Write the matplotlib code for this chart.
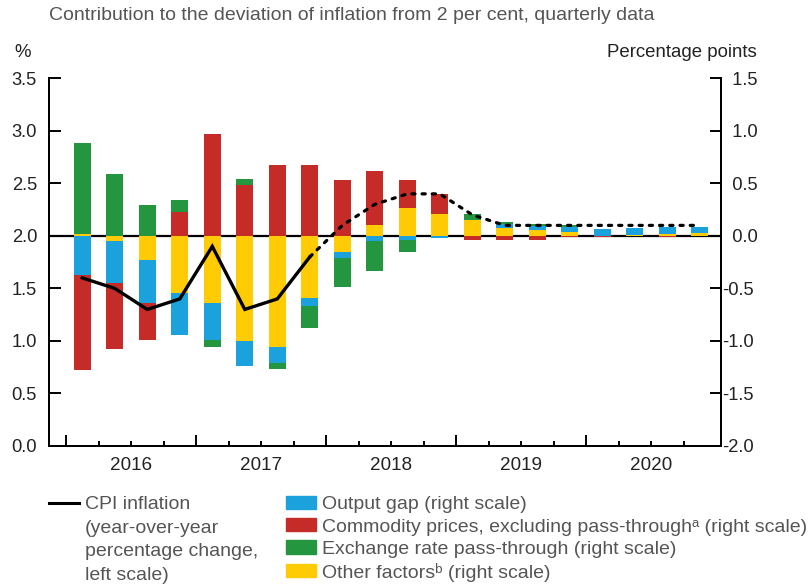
import numpy as np
import matplotlib
matplotlib.use('Agg')
import matplotlib.pyplot as plt
from matplotlib.lines import Line2D
from matplotlib.patches import Patch

plt.rcParams['font.family'] = ['Liberation Sans', 'DejaVu Sans']
plt.rcParams['axes.unicode_minus'] = False

# quarterly data, 2016Q1 .. 2020Q4
years = ['2016', '2017', '2018', '2019', '2020']
n_q = 20

# contributions, percentage points (right scale)
output_gap = [-0.37, -0.40, -0.41, -0.40, -0.35, -0.235, -0.15, -0.08, -0.06, -0.05,
              -0.04, -0.02, 0.0, 0.04, 0.035, 0.05, 0.065, 0.065, 0.065, 0.055]
commodity = [-0.91, -0.63, -0.35, 0.23, 0.97, 0.48, 0.67, 0.67, 0.53, 0.52,
             0.26, 0.19, -0.04, -0.04, -0.04, -0.01, -0.01, -0.005, -0.01, 0.0]
exchange = [0.86, 0.59, 0.29, 0.11, -0.07, 0.06, -0.06, -0.21, -0.28, -0.28,
            -0.115, 0.0, 0.06, 0.02, 0.02, 0.015, 0.0, 0.0, 0.0, 0.0]
other = [0.02, -0.05, -0.23, -0.54, -0.64, -1.00, -1.06, -0.59, -0.15, 0.10,
         0.27, 0.21, 0.15, 0.075, 0.055, 0.035, 0.0, 0.01, 0.02, 0.03]

# CPI inflation, y/y % (left scale): actual to 2017Q4, projection after
cpi_actual = [1.6, 1.5, 1.3, 1.4, 1.9, 1.3, 1.4, 1.8]
cpi_proj = [1.8, 2.1, 2.3, 2.4, 2.4, 2.2, 2.1, 2.1, 2.1, 2.1, 2.1, 2.1, 2.1]

BLUE = '#1BA1DC'
RED = '#C52C27'
GREEN = '#23963F'
YELLOW = '#FFCB05'
GREY = '#555555'
DARK = '#222222'
FS_TICK = 13.2
FS_TEXT = 14

fig = plt.figure(figsize=(8.09, 5.86), dpi=100)
ax = fig.add_axes([49 / 809, 1 - 446 / 586, (721 - 49) / 809, (446 - 78.3) / 586])
ax2 = ax.twinx()
ax.set_zorder(ax2.get_zorder() + 1)
ax.patch.set_visible(False)

x = np.arange(n_q)
ax2.axhline(0, color='black', lw=1.6, zorder=0.5)

pos = np.zeros(n_q)
neg = np.zeros(n_q)
for vals, col in [(other, YELLOW), (output_gap, BLUE), (commodity, RED), (exchange, GREEN)]:
    v = np.array(vals)
    bottom = np.where(v >= 0, pos, neg)
    ax2.bar(x, v, width=0.52, bottom=bottom, color=col, linewidth=0, zorder=1)
    pos += np.clip(v, 0, None)
    neg += np.clip(v, None, 0)

ax.plot(x[:len(cpi_actual)], cpi_actual, color='black', lw=2.4, solid_joinstyle='miter')
ax.plot(x[len(cpi_actual) - 1:], cpi_proj, color='black', lw=2.3,
        linestyle=(0, (1.0, 2.2)), dash_capstyle='round')

ax.set_xlim(-1.023, 19.65)
ax.set_ylim(0, 3.5)
ax2.set_ylim(-2, 1.5)
ax.set_yticks(np.arange(0, 3.51, 0.5))
ax2.set_yticks(np.arange(-2, 1.51, 0.5))
ax.yaxis.set_major_formatter(lambda v, p: f'{v:.1f}')
ax2.yaxis.set_major_formatter(lambda v, p: f'{v:.1f}' if v < 0 else '  ' + f'{v:.1f}')

bounds = x - 0.5
ax.set_xticks(bounds[::4])
ax.set_xticks([b for i, b in enumerate(bounds) if i % 4], minor=True)
ax.tick_params(axis='x', which='major', direction='in', length=8, width=1.4, labelbottom=False)
ax.tick_params(axis='x', which='minor', direction='in', length=3.6, width=1.4)
ax.tick_params(axis='y', direction='in', length=8.6, width=1.4, pad=8.6, labelsize=FS_TICK, labelcolor=DARK)
ax2.tick_params(axis='y', direction='in', length=8, width=1.4, pad=0.5, labelsize=FS_TICK, labelcolor=DARK)

for a in (ax, ax2):
    a.spines['top'].set_visible(False)
    for s in ('left', 'right', 'bottom'):
        a.spines[s].set_linewidth(1.4)

for k, yr in enumerate(years):
    ax.text(4 * k + 1.5, -0.03, yr, ha='center', va='top', fontsize=FS_TICK + 0.4, color=DARK,
            transform=ax.get_xaxis_transform())

fig.text(49 / 809, 1 - 20 / 586, 'Contribution to the deviation of inflation from 2 per cent, quarterly data',
         fontsize=FS_TEXT, color=GREY, va='baseline')
fig.text(14 / 809, 1 - 56.7 / 586, '%', fontsize=13.4, color=DARK, va='baseline')
fig.text(757 / 809, 1 - 56.7 / 586, 'Percentage points', fontsize=13.4, color=DARK,
         va='baseline', ha='right')

leg_kw = dict(loc='upper left', frameon=False, fontsize=FS_TEXT, labelcolor=GREY,
              borderpad=0, borderaxespad=0, handlelength=1.55, handleheight=0.67,
              handletextpad=0.3)

blank = Line2D([], [], alpha=0)
cpi_handles = [Line2D([], [], color='black', lw=2.2), blank, blank, blank]
cpi_labels = ['CPI inflation', '(year-over-year', 'percentage change,', 'left scale)']
fig.legend(cpi_handles, cpi_labels, bbox_to_anchor=(49 / 809, 1 - 495.8 / 586),
           labelspacing=0.31, **leg_kw)

bar_handles = [Patch(color=BLUE), Patch(color=RED), Patch(color=GREEN), Patch(color=YELLOW)]
bar_labels = ['Output gap (right scale)',
              'Commodity prices, excluding pass-through\u1d43 (right scale)',
              'Exchange rate pass-through (right scale)',
              'Other factors\u1d47 (right scale)']
fig.legend(bar_handles, bar_labels, bbox_to_anchor=(286 / 809, 1 - 495.8 / 586),
           labelspacing=0.25, **leg_kw)

fig.savefig('out.png', dpi=100)
